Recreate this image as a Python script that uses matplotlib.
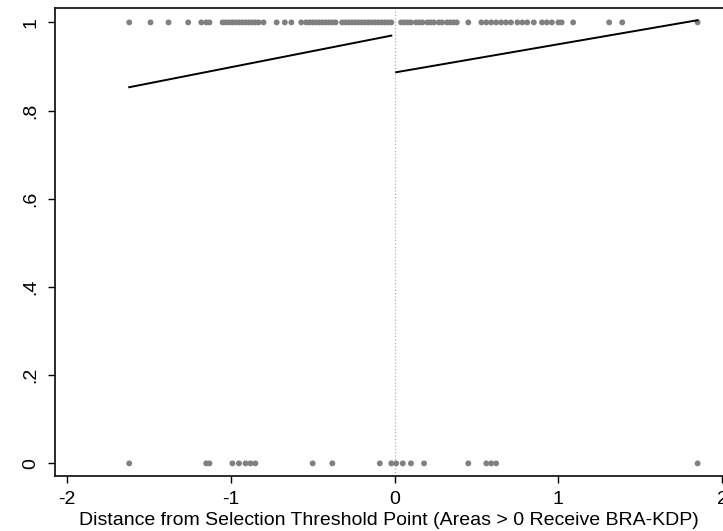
import matplotlib
matplotlib.use("Agg")
import matplotlib.pyplot as plt

plt.rcParams['font.family'] = ['Liberation Sans', 'DejaVu Sans']

# Areas that received the programme (outcome = 1)
x_treated = [-1.62, -1.49, -1.38, -1.26, -1.18, -1.15, -1.13,
             -1.05, -1.03, -1.01, -0.99, -0.97, -0.95, -0.93, -0.91, -0.89, -0.87, -0.85, -0.83, -0.80,
             -0.72, -0.67, -0.63, -0.57,
             -0.54, -0.52, -0.50, -0.48, -0.46, -0.44, -0.42, -0.40, -0.38, -0.36,
             -0.32, -0.30, -0.28, -0.26, -0.24, -0.22, -0.20, -0.18, -0.16, -0.14, -0.12, -0.10,
             -0.08, -0.06, -0.04, -0.02,
             0.04, 0.06, 0.08, 0.10, 0.13, 0.15, 0.17, 0.20,
             0.22, 0.24, 0.27, 0.29, 0.32, 0.34, 0.36, 0.38,
             0.45,
             0.53, 0.56, 0.59, 0.62, 0.65, 0.68, 0.71,
             0.75, 0.78, 0.81, 0.85,
             0.90, 0.93, 0.96, 1.00, 1.02,
             1.09, 1.31, 1.39, 1.85]

# Areas that did not (outcome = 0)
x_untreated = [-1.62, -1.15, -1.13, -0.99, -0.95, -0.91, -0.88, -0.85,
               -0.50, -0.38, -0.09, -0.02, 0.01, 0.05, 0.10, 0.18,
               0.45, 0.56, 0.59, 0.62, 1.85]

# fitted lines on each side of the threshold
fit_left_x = [-1.62, -0.02]
fit_left_y = [0.853, 0.970]
fit_right_x = [0.01, 1.85]
fit_right_y = [0.887, 1.005]

yticks = [0, 0.2, 0.4, 0.6, 0.8, 1]
ytick_labels = ['0', '.2', '.4', '.6', '.8', '1']
xticks = [-2, -1, 0, 1, 2]

fig = plt.figure(figsize=(7.23, 5.31), dpi=100)
ax = fig.add_axes([0.0761, 0.1041, 0.9239, 0.8803])

dot_color = '#808080'
ax.scatter(x_treated, [1] * len(x_treated), s=18, color=dot_color, edgecolors='none', zorder=3)
ax.scatter(x_untreated, [0] * len(x_untreated), s=18, color=dot_color, edgecolors='none', zorder=3)

ax.plot(fit_left_x, fit_left_y, color='black', linewidth=1.4, zorder=4)
ax.plot(fit_right_x, fit_right_y, color='black', linewidth=1.4, zorder=4)

ax.axvline(0, color='#b0b0b0', linestyle=':', linewidth=0.9, zorder=1)

ax.set_xlim(-2.073, 2.005)
ax.set_ylim(-0.028, 1.032)

ax.set_xticks(xticks)
ax.set_xticklabels(['-2', '-1', '0', '1', '2'])
ax.set_yticks(yticks)
ax.set_yticklabels(ytick_labels, rotation=90, va='center')

ax.tick_params(axis='both', direction='out', length=5, width=1, labelsize=14, colors='black')
ax.tick_params(axis='x', pad=6)
ax.tick_params(axis='y', pad=6)

for side in ['left', 'top', 'bottom']:
    ax.spines[side].set_linewidth(1.3)
    ax.spines[side].set_color('#1a1a1a')
ax.spines['right'].set_visible(False)

ax.set_xlabel('Distance from Selection Threshold Point (Areas > 0 Receive BRA-KDP)',
              fontsize=14, labelpad=3)

fig.savefig('out.png', dpi=100)
